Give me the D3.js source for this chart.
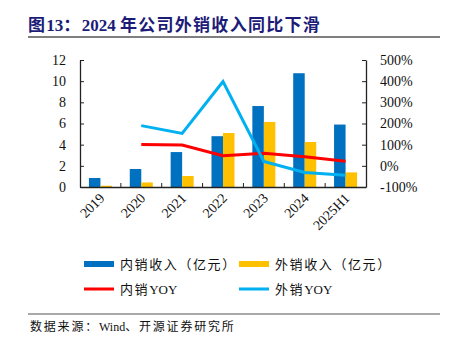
<!DOCTYPE html>
<html>
<head>
<meta charset="utf-8">
<script src="https://cdn.jsdelivr.net/npm/d3@7"></script>
<style>
  body { margin: 0; background: #fff; }
  svg text { fill: #111; }
</style>
</head>
<body>
<div id="chart"></div>
<script>
// categories and series (revenue in 亿元, yoy in %)
var years = ["2019", "2020", "2021", "2022", "2023", "2024", "2025H1"];
var domestic = [0.85, 1.7, 3.3, 4.8, 7.65, 10.75, 5.9];
var overseas = [0.12, 0.43, 1.04, 5.1, 6.15, 4.25, 1.38];
var domesticYoy = [null, 101, 98, 48, 60, 43, 22];
var overseasYoy = [null, 190, 153, 398, 21, -31, -45];
var leftTicks = [0, 2, 4, 6, 8, 10, 12];
var rightTicks = [-100, 0, 100, 200, 300, 400, 500];

var W = 452, H = 346;
var margin = {top: 60, right: 86, bottom: 159, left: 80},
    width = W - margin.left - margin.right,
    height = H - margin.top - margin.bottom;

var svg = d3.select("#chart").append("svg")
    .attr("width", W)
    .attr("height", H);

// put CJK and latin runs in separate tspans so only CJK gets spaced out
function mixedText(sel, str, spacing) {
  var runs = str.match(/[\x00-\x7f]+|[^\x00-\x7f]+/g);
  runs.forEach(function(r) {
    var t = sel.append("tspan").text(r);
    if (/[^\x00-\x7f]/.test(r)) t.style("letter-spacing", spacing + "px");
  });
}

// title + rules
var title = svg.append("text")
    .attr("x", 28).attr("y", 31)
    .style("font-family", "'Liberation Serif', 'Noto Sans CJK SC'")
    .style("font-weight", "bold")
    .style("font-size", "17px")
    .style("fill", "#1c1c78");
mixedText(title, "图13：2024 年公司外销收入同比下滑", 1.3);
svg.append("line")
    .attr("x1", 28).attr("x2", 440).attr("y1", 37).attr("y2", 37)
    .attr("stroke", "#555").attr("stroke-width", 1.5);
svg.append("line")
    .attr("x1", 28).attr("x2", 440).attr("y1", 314).attr("y2", 314)
    .attr("stroke", "#555").attr("stroke-width", 1.2);
var src = svg.append("text")
    .attr("x", 30).attr("y", 331)
    .style("font-family", "'Liberation Serif', 'Noto Sans CJK SC'")
    .style("font-size", "12px");
mixedText(src, "数据来源：Wind、开源证券研究所", 1.8);

var g = svg.append("g")
    .attr("transform", "translate(" + margin.left + "," + margin.top + ")");

var x = d3.scaleBand().domain(years).range([0, width]);
var x1 = d3.scaleBand().domain(["d", "o"]).range([0, 23]);
var yL = d3.scaleLinear().domain([0, 12]).range([height, 0]);
var yR = d3.scaleLinear().domain([-100, 500]).range([height, 0]);

var tickFont = "'Liberation Serif', 'Times New Roman', serif";

// bars
var groups = g.selectAll(".grp")
    .data(years)
    .enter().append("g")
    .attr("transform", function(d) { return "translate(" + (x(d) + x.bandwidth() / 2 - 11.5) + ",0)"; });

groups.append("rect")
    .attr("x", x1("d"))
    .attr("width", x1.bandwidth())
    .attr("y", function(d, i) { return yL(domestic[i]); })
    .attr("height", function(d, i) { return height - yL(domestic[i]); })
    .attr("fill", "#0070c0");
groups.append("rect")
    .attr("x", x1("o"))
    .attr("width", x1.bandwidth())
    .attr("y", function(d, i) { return yL(overseas[i]); })
    .attr("height", function(d, i) { return height - yL(overseas[i]); })
    .attr("fill", "#ffc000");

// yoy lines
function yoyLine(vals) {
  return d3.line()
    .defined(function(d) { return d != null; })
    .x(function(d, i) { return x(years[i]) + x.bandwidth() / 2; })
    .y(function(d) { return yR(d); })(vals);
}
g.append("path").attr("d", yoyLine(domesticYoy))
    .attr("fill", "none").attr("stroke", "#ff0000").attr("stroke-width", 3);
g.append("path").attr("d", yoyLine(overseasYoy))
    .attr("fill", "none").attr("stroke", "#00b0f0").attr("stroke-width", 3);

// axes
var axL = g.append("g")
    .call(d3.axisLeft(yL).tickValues(leftTicks).tickSizeInner(-4).tickSizeOuter(0).tickPadding(14));
var axR = g.append("g")
    .attr("transform", "translate(" + width + ",0)")
    .call(d3.axisRight(yR).tickValues(rightTicks).tickSizeInner(-4).tickSizeOuter(0).tickPadding(14)
      .tickFormat(function(d) { return d + "%"; }));
[axL, axR].forEach(function(a) {
  a.select(".domain").attr("stroke", "#222").attr("stroke-width", 1.3);
  a.selectAll(".tick line").attr("stroke", "#222");
  a.selectAll("text").style("font-family", tickFont).style("font-size", "14px").attr("fill", "#111");
});

var axX = g.append("g")
    .attr("transform", "translate(0," + height + ")")
    .call(d3.axisBottom(x).tickSize(0).tickPadding(0));
axX.select(".domain").attr("stroke", "#222").attr("stroke-width", 1.3);
axX.selectAll(".tick text")
    .style("font-family", tickFont).style("font-size", "14px").attr("fill", "#111")
    .attr("text-anchor", "end")
    .attr("dy", null)
    .attr("transform", "translate(5,12) rotate(-45)");

// separators between categories, pointing up from the baseline
g.selectAll(".sep")
    .data(years.slice(1))
    .enter().append("line")
    .attr("x1", function(d) { return x(d); })
    .attr("x2", function(d) { return x(d); })
    .attr("y1", height).attr("y2", height - 4)
    .attr("stroke", "#222");

// legend
var legend = [
  {name: "内销收入（亿元）", color: "#0070c0", type: "bar", x: 84, y: 264},
  {name: "外销收入（亿元）", color: "#ffc000", type: "bar", x: 239, y: 264},
  {name: "内销YOY", color: "#ff0000", type: "line", x: 84, y: 289},
  {name: "外销YOY", color: "#00b0f0", type: "line", x: 239, y: 289}
];
var lg = svg.selectAll(".lg").data(legend).enter().append("g")
    .attr("transform", function(d) { return "translate(" + d.x + "," + d.y + ")"; });
lg.append("rect")
    .attr("x", 0).attr("width", 30)
    .attr("y", function(d) { return d.type == "bar" ? -3 : -1.5; })
    .attr("height", function(d) { return d.type == "bar" ? 6 : 3; })
    .attr("fill", function(d) { return d.color; });
lg.append("text")
    .attr("x", 36).attr("y", 5)
    .style("font-family", "'Liberation Serif', 'Noto Sans CJK SC'")
    .style("font-size", "13px")
    .each(function(d) { mixedText(d3.select(this), d.name, 1.6); });
</script>
</body>
</html>
